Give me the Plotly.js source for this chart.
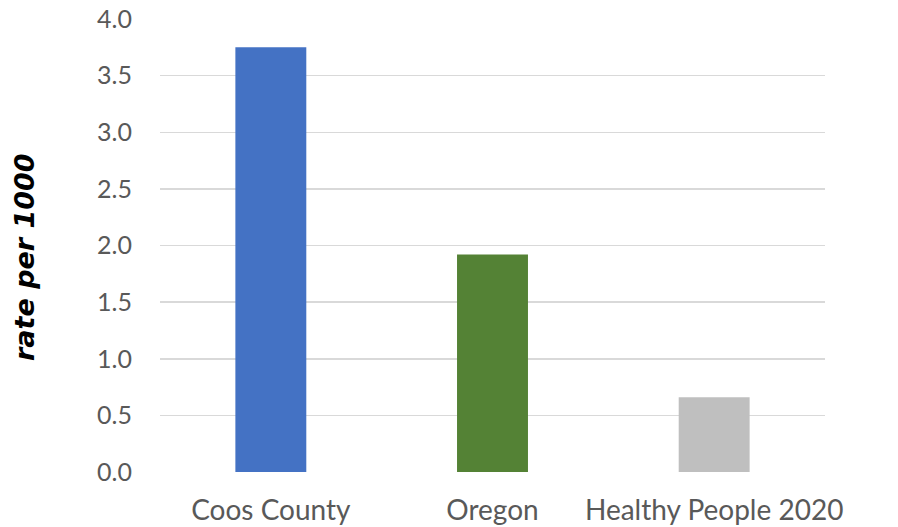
<!DOCTYPE html>
<html><head><meta charset="utf-8">
<script src="https://cdn.plot.ly/plotly-3.0.1.min.js"></script>
<style>html,body{margin:0;padding:0;background:#fff;}#chart{width:898px;height:527px;}</style>
</head><body><div id="chart"></div>
<script>
const categories = ["Coos County", "Oregon", "Healthy People 2020"];
const values = [3.75, 1.92, 0.66];
const barColors = ["#4472C4", "#548235", "#BFBFBF"];
const yTickVals = [0, 0.5, 1, 1.5, 2, 2.5, 3, 3.5, 4];
const yTickText = ["0.0", "0.5", "1.0", "1.5", "2.0", "2.5", "3.0", "3.5", "4.0"];
const yTitle = "rate per 1000";

Plotly.newPlot("chart", [{
  type: "bar", x: categories, y: values,
  marker: {color: barColors}, width: 0.32, hoverinfo: "none"
}], {
  width: 898, height: 527,
  margin: {l: 160, r: 73, t: 19, b: 55},
  paper_bgcolor: "#fff", plot_bgcolor: "#fff",
  showlegend: false,
  xaxis: {tickfont: {family: "Lato, 'Open Sans', sans-serif", size: 28, color: "#595959"},
          showgrid: false, zeroline: false, showline: false, ticks: "", ticklabelstandoff: 19},
  yaxis: {range: [0, 4], tickvals: yTickVals, ticktext: yTickText,
          tickfont: {family: "Lato, 'Open Sans', sans-serif", size: 25, color: "#595959"},
          showgrid: true, gridcolor: "#D9D9D9", gridwidth: 1.5, zeroline: false, showline: false,
          ticks: "", ticklabelstandoff: 27},
  annotations: [{
    text: "<b><i>" + yTitle + "</i></b>", textangle: -90, showarrow: false,
    xref: "paper", yref: "paper", x: (24 - 160) / 665, y: (472 - 257) / 453,
    xanchor: "center", yanchor: "middle",
    font: {family: "'DejaVu Sans', sans-serif", size: 27, color: "#000"}
  }]
}, {displayModeBar: false, staticPlot: true});
</script></body></html>
